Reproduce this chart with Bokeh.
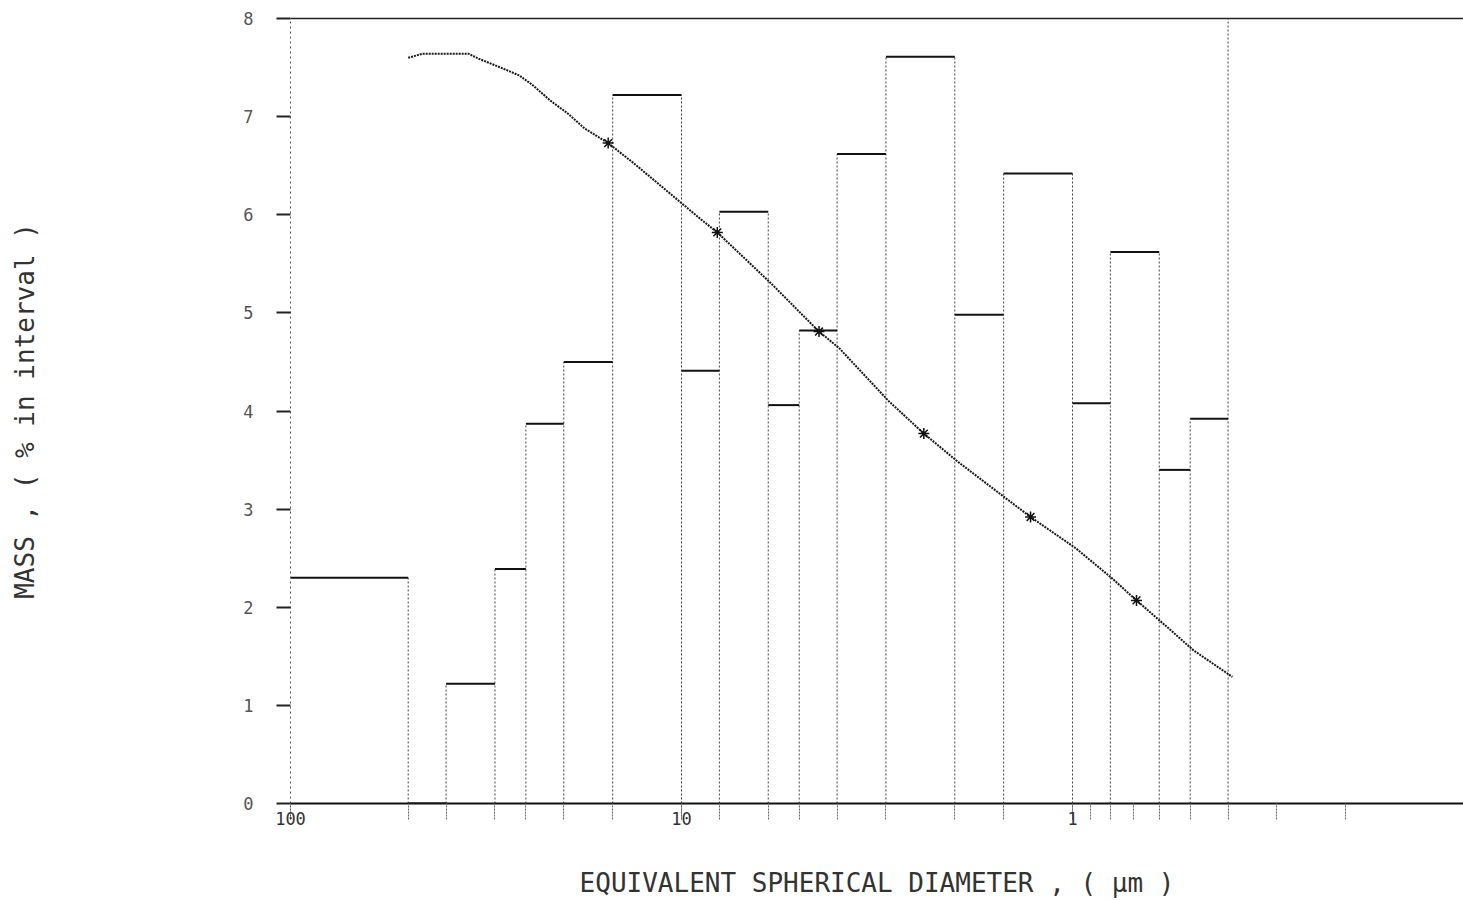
from bokeh.plotting import figure
from bokeh.models import Range1d, FixedTicker, LinearAxis, ColumnDataSource
from bokeh.embed import file_html
from bokeh.resources import INLINE

# ---- data ----
# interval edges (equivalent spherical diameter, um)
edges = [100, 50, 40, 30, 25, 20, 15, 10, 8, 6, 5, 4, 3, 2, 1.5, 1, 0.8, 0.6, 0.5, 0.4]
# mass % in each interval
mass_pct = [2.30, 0.0, 1.22, 2.39, 3.87, 4.50, 7.22, 4.41, 6.03, 4.06,
            4.82, 6.62, 7.61, 4.98, 6.42, 4.08, 5.62, 3.40, 3.92]
# smooth curve
curve_d = [50.0, 46.0, 35.0, 33.0, 29.0, 26.0, 24.0, 21.6, 19.5, 17.7, 15.4, 13.2,
           11.9, 10.8, 8.9, 8.1, 5.9, 4.45, 3.95, 2.95, 2.40, 1.96, 1.48, 1.28,
           0.98, 0.795, 0.686, 0.585, 0.49, 0.39]
curve_v = [7.60, 7.64, 7.64, 7.59, 7.50, 7.42, 7.32, 7.16, 7.03, 6.88, 6.73, 6.52,
           6.37, 6.23, 5.95, 5.82, 5.30, 4.81, 4.64, 4.10, 3.77, 3.48, 3.11, 2.92,
           2.60, 2.30, 2.07, 1.83, 1.56, 1.29]
# measured points on the curve
pts_d = [15.4, 8.1, 4.45, 2.40, 1.28, 0.686]
pts_v = [6.73, 5.82, 4.81, 3.77, 2.92, 2.07]

x_major = [100, 10, 1]
x_minor = edges[1:] + [0.9, 0.7, 0.3, 0.2]
y_ticks = [0, 1, 2, 3, 4, 5, 6, 7, 8]
Y_MAX = 8
X_MIN, X_MAX = 100, 0.1

MONO = "DejaVu Sans Mono"

p = figure(width=1463, height=900, x_axis_type="log",
           x_range=Range1d(X_MIN, X_MAX), y_range=Range1d(0, Y_MAX),
           min_border_left=290, min_border_right=0, min_border_top=18,
           min_border_bottom=97, output_backend="svg", toolbar_location=None,
           background_fill_color="white", border_fill_color="white")
p.outline_line_color = None
p.xgrid.visible = False
p.ygrid.visible = False

# vertical interval edges (dotted)
v_top = []
for i, e in enumerate(edges):
    left = mass_pct[i - 1] if i > 0 else 0
    right = mass_pct[i] if i < len(mass_pct) else Y_MAX
    v_top.append(max(left, right))
vsrc = ColumnDataSource(dict(x=edges[1:], y0=[0] * (len(edges) - 1), y1=v_top[1:]))
p.segment(x0="x", y0="y0", x1="x", y1="y1", source=vsrc,
          line_color="#444444", line_width=1, line_dash="2 2")

# interval tops
hsrc = ColumnDataSource(dict(x0=edges[:-1], x1=edges[1:], y=mass_pct))
p.segment(x0="x0", y0="y", x1="x1", y1="y", source=hsrc,
          line_color="#111111", line_width=2)

# curve
p.line(curve_d, curve_v, line_color="#1a1a1a", line_width=2, line_dash="2 1")
p.scatter(pts_d, pts_v, marker="asterisk", size=11, line_color="#111111", line_width=1.5)

# x axis
xa = p.xaxis[0]
xa.ticker = FixedTicker(ticks=x_major, minor_ticks=x_minor)
xa.major_label_overrides = {100: "100", 10: "10", 1: "1"}
xa.axis_line_color = "#111111"
xa.axis_line_width = 2
xa.major_tick_in = 0
xa.major_tick_out = 16
xa.minor_tick_in = 0
xa.minor_tick_out = 16
xa.major_tick_line_color = "#444444"
xa.minor_tick_line_color = "#666666"
xa.major_tick_line_dash = "2 1"
xa.minor_tick_line_dash = "2 1"
xa.major_label_text_align = "right"
xa.major_label_text_font = MONO
xa.major_label_text_font_size = "17px"
xa.major_label_text_color = "#333333"
xa.major_label_standoff = -8
xa.axis_label = "EQUIVALENT SPHERICAL DIAMETER , ( µm )"
xa.axis_label_text_font = MONO
xa.axis_label_text_font_size = "26px"
xa.axis_label_text_font_style = "normal"
xa.axis_label_text_color = "#333333"
xa.axis_label_standoff = 40

# y axis
ya = p.yaxis[0]
ya.ticker = FixedTicker(ticks=y_ticks)
ya.axis_line_color = "#555555"
ya.axis_line_dash = "2 3"
ya.axis_line_width = 1
ya.major_tick_in = 0
ya.major_tick_out = 14
ya.major_tick_line_color = "#222222"
ya.major_tick_line_width = 2
ya.minor_tick_line_color = None
ya.major_label_text_font = MONO
ya.major_label_text_font_size = "17px"
ya.major_label_text_color = "#555555"
ya.major_label_standoff = 23
ya.axis_label = "MASS , ( % in interval )"
ya.axis_label_text_font = MONO
ya.axis_label_text_font_size = "26px"
ya.axis_label_text_font_style = "normal"
ya.axis_label_text_color = "#333333"
ya.axis_label_standoff = 200

# top border line
top = LinearAxis(ticker=FixedTicker(ticks=[]), major_label_text_font_size="0px",
                 axis_line_color="#222222", axis_line_width=1.5,
                 major_tick_line_color=None, minor_tick_line_color=None)
p.add_layout(top, "above")

open("out.html", "w").write(file_html(p, INLINE))
